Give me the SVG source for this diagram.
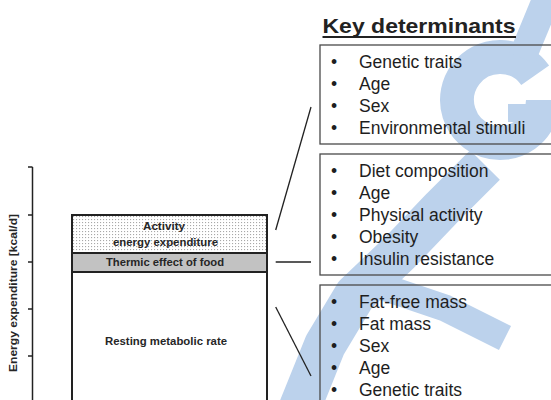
<svg xmlns="http://www.w3.org/2000/svg" width="551" height="400" viewBox="0 0 551 400">
  <defs>
    <pattern id="dots" x="72" y="215" width="3" height="3" patternUnits="userSpaceOnUse">
      <rect width="3" height="3" fill="#ffffff"/>
      <rect x="1" y="1" width="1.1" height="1.1" fill="#a8a8a8"/>
    </pattern>
    <style>
      .lbl { font-family: "Liberation Sans", Arial, sans-serif; font-weight: bold; font-size: 11px; fill: #262626; }
      .item { font-family: "Liberation Sans", Arial, sans-serif; font-size: 17.5px; fill: #1e1e1e; }
      .card { fill: none; stroke: #4a4a4a; stroke-width: 1.3; }
      .link { stroke: #222222; stroke-width: 1.3; fill: none; }
      .wm { fill: none; stroke: #bcd2ec; stroke-linejoin: round; }
    </style>
  </defs>

  <rect width="551" height="400" fill="#ffffff"/>

  <!-- light blue logo mark in the background -->
  <g id="logo-mark">
    <path class="wm" stroke-width="34" d="M 535.2 75.3 A 43 43 0 1 0 543 100"/>
    <path class="wm" stroke-width="18" d="M 508 113 L 551 113"/>
    <path class="wm" stroke-width="28" d="M 522 58 L 548 -5"/>
    <polyline class="wm" stroke-width="42" points="298,412 325,345 355,295 400,252 442,208 485,165"/>
    <polyline class="wm" stroke-width="27" points="380,286 445,308 505,338"/>
  </g>

  <!-- value axis -->
  <g id="axis" stroke="#222222" stroke-width="1.5" fill="none">
    <line x1="32.5" y1="167" x2="32.5" y2="400"/>
    <line x1="28" y1="167" x2="32.5" y2="167"/>
    <line x1="28" y1="215" x2="32.5" y2="215"/>
    <line x1="28" y1="262" x2="32.5" y2="262"/>
    <line x1="28" y1="309" x2="32.5" y2="309"/>
    <line x1="28" y1="356" x2="32.5" y2="356"/>
  </g>
  <text class="lbl" font-size="9.5" text-anchor="middle" transform="translate(16.5,293) rotate(-90)" textLength="158" lengthAdjust="spacingAndGlyphs">Energy expenditure [kcal/d]</text>

  <!-- stacked bar -->
  <g id="activity">
    <rect x="72" y="215" width="195" height="38" fill="url(#dots)"/>
    <text class="lbl" x="164" y="230" text-anchor="middle" textLength="42" lengthAdjust="spacingAndGlyphs">Activity</text>
    <text class="lbl" x="165.5" y="246" text-anchor="middle" textLength="105" lengthAdjust="spacingAndGlyphs">energy expenditure</text>
  </g>
  <g id="thermic">
    <rect x="72" y="253" width="195" height="19" fill="#c2c2c2"/>
    <text class="lbl" x="165" y="265.5" text-anchor="middle" textLength="118" lengthAdjust="spacingAndGlyphs">Thermic effect of food</text>
  </g>
  <g id="resting">
    <rect x="72" y="272" width="195" height="140" fill="#ffffff"/>
    <text class="lbl" x="166" y="345" text-anchor="middle" textLength="122" lengthAdjust="spacingAndGlyphs">Resting metabolic rate</text>
  </g>
  <g id="bar-outline" stroke="#222222" stroke-width="2" fill="none">
    <rect x="72" y="215" width="195" height="200"/>
    <line x1="72" y1="253" x2="267" y2="253"/>
    <line x1="72" y1="272" x2="267" y2="272"/>
  </g>

  <!-- connectors -->
  <g id="connectors">
    <line class="link" x1="275.7" y1="230" x2="311" y2="107"/>
    <line class="link" x1="275.7" y1="262" x2="311" y2="262"/>
    <line class="link" x1="275.7" y1="307" x2="311" y2="376"/>
  </g>

  <!-- heading -->
  <g id="heading">
    <text x="322.5" y="32.5" font-family="Liberation Sans, Arial, sans-serif" font-weight="bold" font-size="21" fill="#222222" textLength="193" lengthAdjust="spacingAndGlyphs">Key determinants</text>
    <line x1="322.5" y1="37" x2="516" y2="37" stroke="#222222" stroke-width="1.8"/>
  </g>

  <g id="card-activity">
    <rect class="card" x="320" y="45" width="245" height="99"/>
    <text class="item" x="331" y="68">•</text><text class="item" x="359" y="68">Genetic traits</text>
    <text class="item" x="331" y="90">•</text><text class="item" x="359" y="90">Age</text>
    <text class="item" x="331" y="112">•</text><text class="item" x="359" y="112">Sex</text>
    <text class="item" x="331" y="134">•</text><text class="item" x="359" y="134">Environmental stimuli</text>
  </g>

  <g id="card-thermic">
    <rect class="card" x="320" y="154" width="245" height="121"/>
    <text class="item" x="331" y="177">•</text><text class="item" x="359" y="177">Diet composition</text>
    <text class="item" x="331" y="199">•</text><text class="item" x="359" y="199">Age</text>
    <text class="item" x="331" y="221">•</text><text class="item" x="359" y="221">Physical activity</text>
    <text class="item" x="331" y="243">•</text><text class="item" x="359" y="243">Obesity</text>
    <text class="item" x="331" y="265">•</text><text class="item" x="359" y="265">Insulin resistance</text>
  </g>

  <g id="card-resting">
    <rect class="card" x="320" y="285" width="245" height="130"/>
    <text class="item" x="331" y="308">•</text><text class="item" x="359" y="308">Fat-free mass</text>
    <text class="item" x="331" y="330">•</text><text class="item" x="359" y="330">Fat mass</text>
    <text class="item" x="331" y="352">•</text><text class="item" x="359" y="352">Sex</text>
    <text class="item" x="331" y="374">•</text><text class="item" x="359" y="374">Age</text>
    <text class="item" x="331" y="396">•</text><text class="item" x="359" y="396">Genetic traits</text>
  </g>
</svg>
